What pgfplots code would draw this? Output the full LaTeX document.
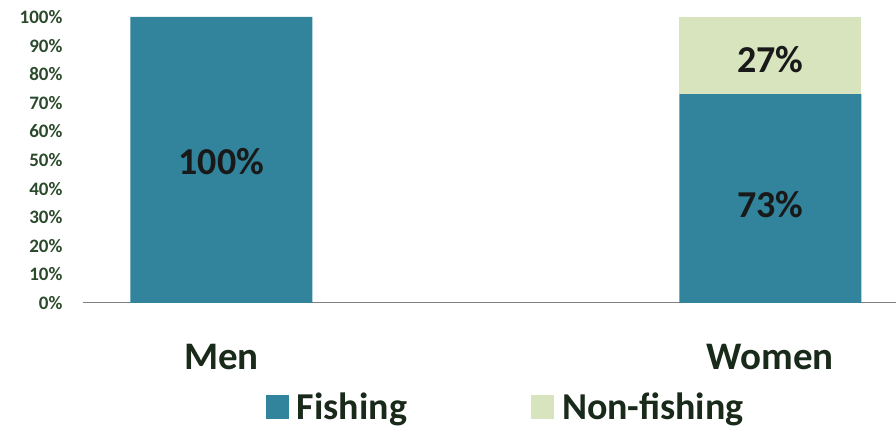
\documentclass[border=0pt]{standalone}
\usepackage{pgfplots}
\pgfplotsset{compat=1.18}
\usepackage{fontspec}
\setmainfont{Carlito}
\definecolor{fish}{HTML}{31849B}
\definecolor{nonfish}{HTML}{D7E4BD}
\definecolor{tickgreen}{HTML}{2B4A2B}
\definecolor{labdark}{HTML}{1A2A1A}
\begin{document}
\begin{tikzpicture}[x=1pt,y=1pt]
\useasboundingbox (0,0) rectangle (896,430);
\begin{axis}[
  at={(83pt,127pt)}, anchor=south west,
  scale only axis, width=813pt, height=286pt,
  xmin=-0.252, xmax=1.229, ymin=0, ymax=100,
  ybar stacked, bar width=182pt,
  axis line style={draw=none},
  tick style={draw=none},
  ytick={0,10,...,100},
  yticklabels={0\%,10\%,20\%,30\%,40\%,50\%,60\%,70\%,80\%,90\%,100\%},
  yticklabel style={font=\bfseries\fontsize{19}{19}\selectfont, text=tickgreen, anchor=east, xshift=-17pt},
  xtick={0,1}, xticklabels={Men,Women},
  xticklabel style={font=\bfseries\fontsize{39}{39}\selectfont, text=labdark, anchor=center, yshift=-54pt},
  legend columns=2,
  legend style={draw=none, fill=none, at={(0.52,-0.362)}, anchor=center,
    font=\bfseries\fontsize{38}{38}\selectfont, text=labdark,
    /tikz/every odd column/.append style={column sep=6pt},
    /tikz/every even column/.append style={column sep=122pt}},
  legend image code/.code={\fill[#1] (0pt,-12pt) rectangle (23pt,12pt);},
  clip=false,
]
\addplot[fill=fish, draw=none] coordinates {(0,100) (1,73)};
\addlegendentry{Fishing}
\addplot[fill=nonfish, draw=none] coordinates {(0,0) (1,27)};
\addlegendentry{Non-fishing}
\draw[gray, line width=1pt] (rel axis cs:0,0) -- (rel axis cs:1,0);
\coordinate (lm) at (axis cs:0,49.5);
\coordinate (lw1) at (axis cs:1,34.5);
\coordinate (lw2) at (axis cs:1,85);
\end{axis}
\node[font=\bfseries\fontsize{38}{38}\selectfont, text=black!90] at (lm) {100\%};
\node[font=\bfseries\fontsize{38}{38}\selectfont, text=black!90] at (lw1) {73\%};
\node[font=\bfseries\fontsize{38}{38}\selectfont, text=black!90] at (lw2) {27\%};
\end{tikzpicture}
\end{document}
